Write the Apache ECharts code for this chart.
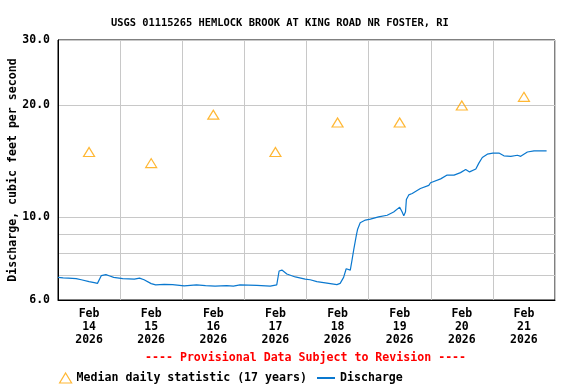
<!DOCTYPE html>
<html>
<head>
<meta charset="utf-8">
<script src="https://cdn.jsdelivr.net/npm/echarts@6/dist/echarts.min.js"></script>
<style>html,body{margin:0;padding:0;background:#fff}#c{width:576px;height:384px}</style>
</head>
<body>
<div id="c"></div>
<script>
const titleText = 'USGS 01115265 HEMLOCK BROOK AT KING ROAD NR FOSTER, RI';
const yAxisTitle = 'Discharge, cubic feet per second';
const provisionalText = '---- Provisional Data Subject to Revision ----';
const medianName = 'Median daily statistic (17 years)';
const dischargeName = 'Discharge';

const dischargeTimes = [
'2026-02-14 00:00','2026-02-14 02:00','2026-02-14 04:00','2026-02-14 07:00','2026-02-14 09:00','2026-02-14 12:00','2026-02-14 14:00','2026-02-14 15:15','2026-02-14 16:00','2026-02-14 16:45','2026-02-14 18:30','2026-02-14 20:00','2026-02-14 21:30',
'2026-02-15 01:00','2026-02-15 05:30','2026-02-15 07:30','2026-02-15 09:15','2026-02-15 12:00','2026-02-15 13:45','2026-02-15 17:00','2026-02-15 20:15',
'2026-02-16 00:45','2026-02-16 05:30','2026-02-16 09:00','2026-02-16 12:40','2026-02-16 17:10','2026-02-16 19:45','2026-02-16 22:20',
'2026-02-17 04:50','2026-02-17 10:00','2026-02-17 12:30','2026-02-17 13:25','2026-02-17 14:30','2026-02-17 16:25','2026-02-17 19:40','2026-02-17 23:30',
'2026-02-18 01:25','2026-02-18 04:00','2026-02-18 07:55','2026-02-18 11:45','2026-02-18 13:00','2026-02-18 14:20','2026-02-18 15:20','2026-02-18 16:55','2026-02-18 17:35','2026-02-18 18:15','2026-02-18 19:15','2026-02-18 19:45','2026-02-18 20:45','2026-02-18 22:45',
'2026-02-19 00:40','2026-02-19 03:50','2026-02-19 07:10','2026-02-19 09:40','2026-02-19 12:00','2026-02-19 12:55','2026-02-19 13:35','2026-02-19 14:15','2026-02-19 14:35','2026-02-19 15:30','2026-02-19 16:50','2026-02-19 20:00','2026-02-19 23:15','2026-02-19 23:55',
'2026-02-20 03:50','2026-02-20 06:20','2026-02-20 09:00','2026-02-20 11:30','2026-02-20 13:30','2026-02-20 15:00','2026-02-20 17:25','2026-02-20 18:35','2026-02-20 19:55','2026-02-20 21:50',
'2026-02-21 00:00','2026-02-21 02:20','2026-02-21 04:15','2026-02-21 06:55','2026-02-21 09:30','2026-02-21 10:45','2026-02-21 13:20','2026-02-21 15:55','2026-02-21 18:30','2026-02-21 20:45'
];
const dischargeValues = [
6.90,6.88,6.87,6.85,6.80,6.72,6.68,6.65,6.68,6.98,7.02,6.96,6.90,
6.85,6.83,6.87,6.80,6.64,6.59,6.61,6.60,
6.55,6.59,6.56,6.54,6.56,6.54,6.59,
6.57,6.54,6.59,7.18,7.22,7.05,6.92,6.83,
6.80,6.72,6.66,6.60,6.65,6.90,7.28,7.22,7.68,8.20,8.95,9.30,9.68,9.84,
9.90,10.04,10.14,10.35,10.66,10.36,10.10,10.36,11.17,11.50,11.60,11.96,12.20,12.40,
12.70,13.00,13.00,13.20,13.45,13.26,13.50,14.00,14.50,14.80,
14.90,14.90,14.65,14.60,14.70,14.60,15.00,15.10,15.10,15.10
];

const medianTimes = ['2026-02-14 12:00','2026-02-15 12:00','2026-02-16 12:00','2026-02-17 12:00','2026-02-18 12:00','2026-02-19 12:00','2026-02-20 12:00','2026-02-21 12:00'];
const medianValues = [15.0, 14.0, 18.9, 15.0, 18.0, 18.0, 20.0, 21.1];

const xStart = '2026-02-14 00:00';
const xEnd = '2026-02-22 00:00';
const dayLines = ['2026-02-14 00:00','2026-02-15 00:00','2026-02-16 00:00','2026-02-17 00:00','2026-02-18 00:00','2026-02-19 00:00','2026-02-20 00:00','2026-02-21 00:00','2026-02-22 00:00'];
const dayLabels = medianTimes;
const monthNames = ['Jan','Feb','Mar','Apr','May','Jun','Jul','Aug','Sep','Oct','Nov','Dec'];

const yMin = 6, yMax = 30;
const yGridValues = [6, 7, 8, 9, 10, 20, 30];
const yLabelValues = [6, 10, 20, 30];

const pd = s => echarts.number.parseDate(s).getTime();
const FONT = '"DejaVu Sans Mono", monospace';
const chart = echarts.init(document.getElementById('c'), null, {renderer: 'canvas'});

chart.setOption({
  animation: false,
  backgroundColor: '#fff',
  title: {
    text: titleText, left: 106, top: 13,
    textStyle: {fontFamily: FONT, fontWeight: 'bold', fontSize: 10.4, color: '#000'}
  },
  grid: {left: 58, right: 21, top: 40, bottom: 84, show: true, borderColor: '#000', borderWidth: 1, containLabel: false, outerBoundsMode: 'none'},
  xAxis: {
    type: 'value', min: pd(xStart), max: pd(xEnd),
    axisLine: {show: true, lineStyle: {color: '#000', width: 1}},
    axisTick: {show: false, customValues: dayLines.map(pd)},
    splitLine: {show: true, lineStyle: {color: '#c8c8c8', width: 1}},
    axisLabel: {
      customValues: dayLabels.map(pd),
      margin: 8, lineHeight: 13,
      fontFamily: FONT, fontWeight: 'bold', fontSize: 11.5, color: '#000',
      formatter: v => { const d = new Date(v); return monthNames[d.getMonth()] + '\n' + d.getDate() + '\n' + d.getFullYear(); }
    }
  },
  yAxis: {
    type: 'log', logBase: 10, min: yMin, max: yMax,
    name: yAxisTitle, nameLocation: 'middle', nameGap: 39, nameRotate: 90, nameMoveOverlap: false,
    nameTextStyle: {fontFamily: FONT, fontWeight: 'bold', fontSize: 11.6, color: '#000'},
    axisLine: {show: true, lineStyle: {color: '#000', width: 1}},
    axisTick: {show: false, customValues: yGridValues},
    splitLine: {show: true, lineStyle: {color: '#c8c8c8', width: 1}},
    axisLabel: {
      customValues: yLabelValues, margin: 8,
      fontFamily: FONT, fontWeight: 'bold', fontSize: 11.5, color: '#000',
      formatter: v => Number(v).toFixed(1)
    }
  },
  legend: [
    {
      left: 54, top: 367, itemWidth: 12, itemHeight: 10, itemGap: 8,
      textStyle: {fontFamily: FONT, fontWeight: 'bold', fontSize: 11.6, color: '#000'},
      data: [{name: medianName, icon: 'triangle', itemStyle: {color: 'rgba(0,0,0,0)', borderColor: '#ffa500', borderWidth: 1.2}}]
    },
    {
      left: 312, top: 367, itemWidth: 18, itemHeight: 2, itemGap: 8,
      textStyle: {fontFamily: FONT, fontWeight: 'bold', fontSize: 11.6, color: '#000'},
      data: [{name: dischargeName, icon: 'rect', itemStyle: {color: '#0a78cf'}}]
    }
  ],
  graphic: [{
    type: 'text', left: 145, top: 352,
    style: {text: provisionalText, fill: '#ff0000', font: 'bold 11.6px "DejaVu Sans Mono", monospace'}
  }],
  series: [
    {
      name: dischargeName, type: 'line', showSymbol: false, symbol: 'none',
      lineStyle: {color: '#0a78cf', width: 1.2}, itemStyle: {color: '#0a78cf'},
      data: dischargeTimes.map((t, i) => [pd(t), dischargeValues[i]]), z: 3
    },
    {
      name: medianName, type: 'scatter', symbol: 'triangle', symbolSize: [11, 9],
      itemStyle: {color: 'rgba(0,0,0,0)', borderColor: '#ffa500', borderWidth: 1.2},
      data: medianTimes.map((t, i) => [pd(t), medianValues[i]]), z: 4
    }
  ]
});
</script>
</body>
</html>
